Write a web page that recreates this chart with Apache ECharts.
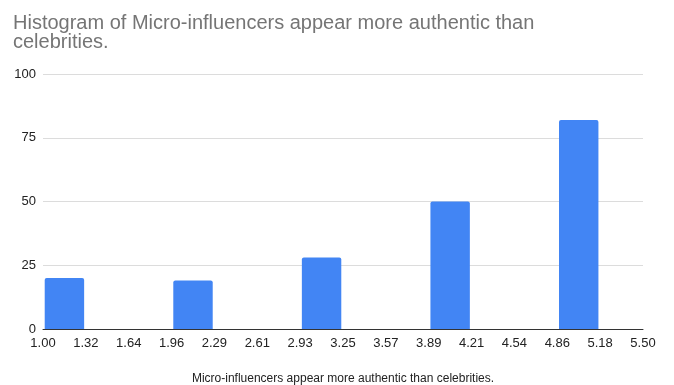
<!DOCTYPE html>
<html>
<head>
<meta charset="utf-8">
<script src="https://cdn.jsdelivr.net/npm/echarts@6/dist/echarts.min.js"></script>
<style>
  html, body { margin: 0; padding: 0; background: #fff; }
  #chart { width: 674px; height: 385px; }
</style>
</head>
<body>
<div id="chart"></div>
<script>
// Bin edges shown under the axis (15 edges -> 14 bins)
const binEdges = ['1.00', '1.32', '1.64', '1.96', '2.29', '2.61', '2.93', '3.25',
                  '3.57', '3.89', '4.21', '4.54', '4.86', '5.18', '5.50'];
// Count in each bin, left to right
const binCounts = [20, 0, 0, 19, 0, 0, 28, 0, 0, 50, 0, 0, 82, 0];
const yTicks = [0, 25, 50, 75, 100];

const titleText = 'Histogram of Micro-influencers appear more authentic than\ncelebrities.';
const axisTitle = 'Micro-influencers appear more authentic than celebrities.';

const binNames = binCounts.map((_, i) => binEdges[i] + '-' + binEdges[i + 1]);

const chart = echarts.init(document.getElementById('chart'), null, { renderer: 'canvas' });
chart.setOption({
  animation: false,
  backgroundColor: '#ffffff',
  title: {
    text: titleText,
    left: 8,
    top: 9,
    textStyle: {
      fontFamily: 'Liberation Sans, Arial, sans-serif',
      fontSize: 20,
      lineHeight: 19,
      fontWeight: 'normal',
      color: '#757575'
    }
  },
  grid: { left: 43, right: 31, top: 74, bottom: 56, containLabel: false, outerBoundsMode: 'none' },
  xAxis: [
    {
      // bins, one category per bar
      type: 'category',
      data: binNames,
      boundaryGap: true,
      axisLine: { show: false },
      axisTick: { show: false },
      axisLabel: { show: false },
      splitLine: { show: false }
    },
    {
      // edge labels at bin boundaries
      type: 'value',
      min: 0,
      max: binEdges.length - 1,
      interval: 1,
      position: 'bottom',
      name: axisTitle,
      nameLocation: 'middle',
      nameGap: 44,
      nameTextStyle: {
        fontFamily: 'Liberation Sans, Arial, sans-serif',
        fontSize: 12,
        color: '#222222'
      },
      axisLine: { show: true, lineStyle: { color: '#333333', width: 1 } },
      axisTick: { show: false },
      splitLine: { show: false },
      axisLabel: {
        margin: 8,
        fontFamily: 'Liberation Sans, Arial, sans-serif',
        fontSize: 13,
        color: '#222222',
        formatter: v => binEdges[Math.round(v)]
      }
    }
  ],
  yAxis: {
    type: 'value',
    min: yTicks[0],
    max: yTicks[yTicks.length - 1],
    interval: yTicks[1] - yTicks[0],
    axisLine: { show: false },
    axisTick: { show: false },
    axisLabel: {
      margin: 7,
      fontFamily: 'Liberation Sans, Arial, sans-serif',
      fontSize: 13,
      color: '#222222'
    },
    splitLine: { lineStyle: { color: '#dcdcdc', width: 1 } }
  },
  series: [{
    type: 'bar',
    xAxisIndex: 0,
    data: binCounts,
    barWidth: '92%',
    itemStyle: { color: '#4285f4', borderRadius: [2, 2, 0, 0] }
  }]
});
</script>
</body>
</html>
